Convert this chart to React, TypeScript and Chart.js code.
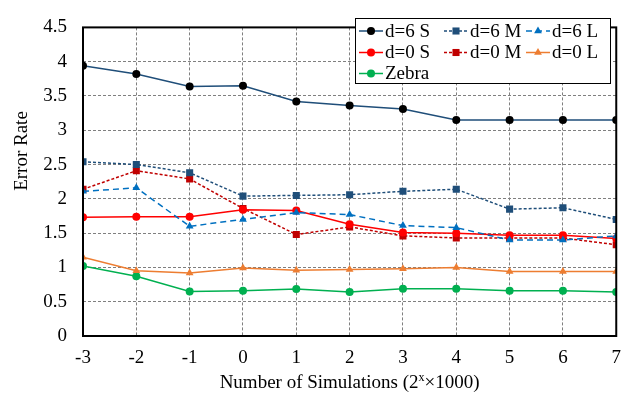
import React, { useEffect, useRef } from "react";
import { Chart, registerables } from "chart.js";

Chart.register(...registerables);

const xValues = [-3, -2, -1, 0, 1, 2, 3, 4, 5, 6, 7];
const d6S = [3.94, 3.82, 3.64, 3.65, 3.42, 3.36, 3.31, 3.15, 3.15, 3.15, 3.15];
const d6M = [2.54, 2.5, 2.38, 2.04, 2.05, 2.06, 2.11, 2.14, 1.85, 1.87, 1.7];
const d6L = [2.11, 2.16, 1.6, 1.7, 1.8, 1.77, 1.61, 1.58, 1.4, 1.4, 1.46];
const d0S = [1.73, 1.74, 1.74, 1.84, 1.83, 1.63, 1.51, 1.5, 1.47, 1.47, 1.42];
const d0M = [2.14, 2.41, 2.29, 1.86, 1.48, 1.59, 1.46, 1.43, 1.43, 1.43, 1.33];
const d0L = [1.15, 0.95, 0.92, 0.99, 0.96, 0.97, 0.98, 1.0, 0.94, 0.94, 0.94];
const zebra = [1.02, 0.87, 0.65, 0.66, 0.685, 0.64, 0.69, 0.69, 0.66, 0.66, 0.64];

const xTitleParts = ["Number of Simulations (2", "x", "\u00D71000)"];
const yTitle = "Error Rate";
const FONT = "'Liberation Serif', 'Times New Roman', serif";

type Series = {
  label: string;
  data: number[];
  line: string;
  marker: string;
  style: string;
  radius: number;
  dash: number[];
};

const series: Series[] = [
  { label: "d=6 S", data: d6S, line: "#1F4E79", marker: "#000000", style: "circle", radius: 4, dash: [] },
  { label: "d=6 M", data: d6M, line: "#1F4E79", marker: "#1F4E79", style: "rect", radius: 5, dash: [3, 2] },
  { label: "d=6 L", data: d6L, line: "#0070C0", marker: "#0070C0", style: "triangle", radius: 4.5, dash: [6, 4] },
  { label: "d=0 S", data: d0S, line: "#FF0000", marker: "#FF0000", style: "circle", radius: 4, dash: [] },
  { label: "d=0 M", data: d0M, line: "#C00000", marker: "#C00000", style: "rect", radius: 5, dash: [3, 2] },
  { label: "d=0 L", data: d0L, line: "#ED7D31", marker: "#ED7D31", style: "triangle", radius: 4.5, dash: [] },
  { label: "Zebra", data: zebra, line: "#00B050", marker: "#00B050", style: "circle", radius: 4, dash: [] },
];

function drawMarker(ctx: CanvasRenderingContext2D, s: Series, x: number, y: number) {
  ctx.save();
  ctx.fillStyle = s.marker;
  ctx.beginPath();
  const r = s.radius;
  if (s.style === "circle") {
    ctx.arc(x, y, r, 0, Math.PI * 2);
  } else if (s.style === "rect") {
    const h = Math.SQRT1_2 * r;
    ctx.rect(x - h, y - h, 2 * h, 2 * h);
  } else {
    ctx.moveTo(x, y - r);
    ctx.lineTo(x + Math.sin((2 * Math.PI) / 3) * r, y - Math.cos((2 * Math.PI) / 3) * r);
    ctx.lineTo(x + Math.sin((4 * Math.PI) / 3) * r, y - Math.cos((4 * Math.PI) / 3) * r);
    ctx.closePath();
  }
  ctx.fill();
  ctx.restore();
}

const framePlugin = {
  id: "frame",
  afterDatasetsDraw(chart: any) {
    const { ctx, chartArea } = chart;
    const { left, right, top, bottom } = chartArea;
    ctx.save();
    ctx.strokeStyle = "#000";
    ctx.lineWidth = 2;
    ctx.setLineDash([]);
    ctx.strokeRect(left, top, right - left, bottom - top);

    // legend
    const bx = 355, by = 18, bw = 255, bh = 65;
    ctx.fillStyle = "#fff";
    ctx.fillRect(bx, by, bw, bh);
    ctx.lineWidth = 1;
    ctx.strokeStyle = "#000";
    ctx.strokeRect(bx + 0.5, by + 0.5, bw, bh);
    const cols = [359, 444, 526];
    const rows = [31, 52.5, 73.5];
    ctx.font = `19px ${FONT}`;
    ctx.textBaseline = "middle";
    ctx.textAlign = "left";
    series.forEach((s, i) => {
      const cx = cols[i % 3];
      const cy = rows[Math.floor(i / 3)];
      ctx.save();
      ctx.strokeStyle = s.line;
      ctx.lineWidth = 1.5;
      ctx.setLineDash(s.dash);
      ctx.beginPath();
      ctx.moveTo(cx, cy);
      ctx.lineTo(cx + 24, cy);
      ctx.stroke();
      ctx.restore();
      drawMarker(ctx, s, cx + 12, cy);
      ctx.fillStyle = "#000";
      ctx.fillText(s.label, cx + 26, cy + 1);
    });

    // x axis title, with superscript x
    ctx.fillStyle = "#000";
    ctx.textBaseline = "alphabetic";
    ctx.textAlign = "left";
    const big = `19px ${FONT}`;
    const small = `12px ${FONT}`;
    ctx.font = big;
    const w0 = ctx.measureText(xTitleParts[0]).width;
    const w2 = ctx.measureText(xTitleParts[2]).width;
    ctx.font = small;
    const w1 = ctx.measureText(xTitleParts[1]).width;
    const total = w0 + w1 + w2;
    const cxT = (left + right) / 2;
    let tx = cxT - total / 2;
    const base = 388;
    ctx.font = big;
    ctx.fillText(xTitleParts[0], tx, base);
    tx += w0;
    ctx.font = small;
    ctx.fillText(xTitleParts[1], tx, base - 7);
    tx += w1;
    ctx.font = big;
    ctx.fillText(xTitleParts[2], tx, base);

    // y axis title
    ctx.font = `19px ${FONT}`;
    ctx.textAlign = "center";
    ctx.textBaseline = "middle";
    ctx.save();
    ctx.translate(22, 151);
    ctx.rotate(-Math.PI / 2);
    ctx.fillText(yTitle, 0, 0);
    ctx.restore();
    ctx.restore();
  },
};

export default function App() {
  const ref = useRef<HTMLCanvasElement | null>(null);
  useEffect(() => {
    document.body.style.margin = "0";
    const canvas = ref.current;
    if (!canvas) return;
    const chart = new Chart(canvas, {
      type: "line",
      data: {
        datasets: series.map((s) => ({
          label: s.label,
          data: s.data.map((v, i) => ({ x: xValues[i], y: v })),
          borderColor: s.line,
          backgroundColor: s.marker,
          pointBackgroundColor: s.marker,
          pointBorderColor: s.marker,
          pointBorderWidth: 0,
          pointStyle: s.style as any,
          pointRadius: s.radius,
          borderWidth: 1.5,
          borderDash: s.dash,
          tension: 0,
          fill: false,
        })),
      },
      options: {
        responsive: false,
        animation: false,
        devicePixelRatio: 1,
        layout: { padding: { top: 12, right: 12, left: 0, bottom: 0 } },
        plugins: {
          legend: { display: false },
          tooltip: { enabled: false },
        },
        scales: {
          x: {
            type: "linear",
            min: -3,
            max: 7,
            afterFit: (scale: any) => {
              scale.height = 62;
            },
            ticks: {
              stepSize: 1,
              padding: 11,
              color: "#000",
              font: { family: FONT, size: 19 },
              callback: (v: any) => `${v}`,
            },
            grid: { color: "#7f7f7f", lineWidth: 1, drawTicks: false },
            border: { display: false, dash: [3, 2] },
          },
          y: {
            type: "linear",
            min: 0,
            max: 4.5,
            afterFit: (scale: any) => {
              scale.width = 83;
            },
            ticks: {
              stepSize: 0.5,
              padding: 16,
              color: "#000",
              font: { family: FONT, size: 19 },
              callback: (v: any) => `${Math.round(Number(v) * 10) / 10}`,
            },
            grid: { color: "#7f7f7f", lineWidth: 1, drawTicks: false },
            border: { display: false, dash: [3, 2] },
          },
        },
      },
      plugins: [framePlugin],
    });
    return () => chart.destroy();
  }, []);
  return (
    <div style={{ width: 632, height: 398 }}>
      <canvas ref={ref} width={632} height={398} />
    </div>
  );
}
